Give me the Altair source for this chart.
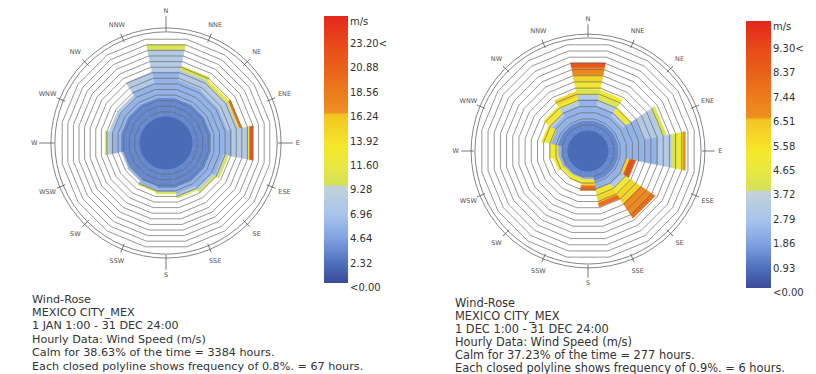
import altair as alt
import pandas as pd

# ---------------- data ----------------
DIRS = ["N", "NNE", "NE", "ENE", "E", "ESE", "SE", "SSE",
        "S", "SSW", "SW", "WSW", "W", "WNW", "NW", "NNW"]
ANGLES = [0.0, 22.5, 45.0, 67.5, 90.0, 112.5, 135.0, 157.5,
          180.0, 202.5, 225.0, 247.5, 270.0, 292.5, 315.0, 337.5]

# frequency (%) of each speed class (class i = i..i+1 legend steps) per direction
LEFT_FREQ = [
    [0, 2.8, 3.8, 3.1, 0.7, 0, 0, 0, 0, 0, 0],      # N
    [0, 2.8, 2.6, 1.4, 0.6, 0, 0, 0, 0, 0, 0],      # NNE
    [0, 2.8, 2.4, 1.3, 0.3, 0.2, 0, 0, 0, 0, 0],    # NE
    [0, 2.8, 2.4, 1.5, 0.2, 0, 0, 0, 0.3, 0, 0],    # ENE
    [0, 2.8, 3.0, 2.3, 0.2, 0, 0, 0, 0, 0.5, 0],    # E
    [0, 2.8, 1.8, 0.4, 0.3, 0, 0, 0, 0, 0, 0],      # ESE
    [0, 2.8, 1.3, 0.4, 0.3, 0, 0, 0, 0, 0, 0],      # SE
    [0, 2.8, 0.9, 0.4, 0.2, 0, 0, 0, 0, 0, 0],      # SSE
    [0, 2.8, 0.6, 0, 0.25, 0, 0, 0, 0, 0, 0],       # S
    [0, 2.6, 0.6, 0, 0.2, 0, 0, 0, 0, 0, 0],        # SSW
    [0, 2.4, 0.4, 0, 0, 0, 0, 0, 0, 0, 0],          # SW
    [0, 2.4, 0.3, 0, 0, 0, 0, 0, 0, 0, 0],          # WSW
    [0, 2.8, 1.4, 0.6, 0.25, 0, 0, 0, 0, 0, 0],     # W
    [0, 2.8, 1.2, 0.5, 0, 0, 0, 0, 0, 0, 0],        # WNW
    [0, 2.8, 1.2, 0.5, 0, 0, 0, 0, 0, 0, 0],        # NW
    [0, 2.8, 2.2, 1.5, 0, 0, 0, 0, 0, 0, 0],        # NNW
]
RIGHT_FREQ = [
    [0, 1.6, 3.1, 0.6, 0.8, 1.1, 1.0, 1.1, 0, 0.7, 0],   # N
    [0, 1.6, 2.2, 0.8, 0.6, 0.8, 0, 0, 0, 0, 0],         # NNE
    [0, 1.6, 1.6, 0.6, 0, 0.8, 0, 0, 0, 0, 0],           # NE
    [0, 1.6, 3.8, 2.6, 0.6, 0, 0, 0, 0, 0, 0],           # ENE
    [0, 1.6, 5.8, 1.9, 0.8, 0.9, 0, 0.3, 0, 0, 0],       # E
    [0, 1.6, 1.2, 0, 0, 0, 0.4, 0, 0, 0.9, 0],           # ESE
    [0, 1.6, 1.4, 0.6, 0, 1.0, 1.6, 1.8, 0.7, 0, 0],     # SE
    [0, 1.6, 1.2, 0, 0, 1.0, 0.9, 0, 0.6, 0, 0],         # SSE
    [0, 0.9, 0.4, 0, 0, 0.5, 0.4, 0, 0.7, 0, 0],         # S
    [0, 0.9, 0.3, 0, 0, 0.7, 0, 0, 0, 0, 0],             # SSW
    [0, 0.9, 0.3, 0, 0, 0.5, 0, 0, 0, 0, 0],             # SW
    [0, 1.0, 0.4, 0, 0, 0.8, 0, 0, 0, 0, 0],             # WSW
    [0, 1.0, 0.5, 0, 0, 1.2, 0, 0, 0, 0, 0],             # W
    [0, 1.6, 1.0, 0, 0, 1.3, 0, 0, 0, 0, 0],             # WNW
    [0, 1.6, 1.6, 0.4, 0, 1.2, 0, 0, 0, 0, 0],           # NW
    [0, 1.6, 2.2, 0.6, 0, 0.6, 0.8, 0, 0, 0, 0],         # NNW
]

LEFT_TICKS = ["<0.00", "2.32", "4.64", "6.96", "9.28", "11.60",
              "13.92", "16.24", "18.56", "20.88", "23.20<"]
RIGHT_TICKS = ["<0.00", "0.93", "1.86", "2.79", "3.72", "4.65",
               "5.58", "6.51", "7.44", "8.37", "9.30<"]

LEFT_TEXT = ["Wind-Rose", "MEXICO CITY_MEX", "1 JAN 1:00 - 31 DEC 24:00",
             "Hourly Data: Wind Speed (m/s)",
             "Calm for 38.63% of the time = 3384 hours.",
             "Each closed polyline shows frequency of 0.8%. = 67 hours."]
RIGHT_TEXT = ["Wind-Rose", "MEXICO CITY_MEX", "1 DEC 1:00 - 31 DEC 24:00",
              "Hourly Data: Wind Speed (m/s)",
              "Calm for 37.23% of the time = 277 hours.",
              "Each closed polyline shows frequency of 0.9%. = 6 hours."]

# colour ramp in legend-step units
STOP_LEVELS = [0.2, 1.0, 2.0, 3.0, 4.0, 4.16, 4.22, 5.0, 5.8, 7.1, 7.2, 8.0, 9.0, 10.0, 11.2]
STOP_COLORS = ["#3a4a98", "#4e6fbc", "#7ea0e0", "#a8c4ec", "#c0d0dc", "#c4d2d6",
               "#d2e05a", "#e8e840", "#f5e82a", "#f4c424", "#ee9020", "#ec7c1c",
               "#e9621a", "#e84a1a", "#e5261c"]
CALM_COLOR = "#4a6cb6"

W, H = 400, 358
LEG_LO, LEG_HI = 0.2, 11.15

LEFT_CFG = dict(cx=158, cy=130, k=7.125, calm=3.65, ring=0.8, nrings=14,
                frames=[15.6, 16.15], major=[15.7, 17.8], minor=[15.3, 16.6],
                lab_major=18.5, lab_minor=18.0,
                bar=(316, 340), lvl0=275, lab_x=342, text=(24, 280.5), lh=13.4,
                fs=11.2)
RIGHT_CFG = dict(cx=180, cy=138, k=7.0, calm=2.86, ring=0.9, nrings=14,
                 frames=[16.15, 16.7], major=[16.3, 18.1], minor=[15.9, 17.2],
                 lab_major=18.9, lab_minor=18.5,
                 bar=(338, 363), lvl0=280, lab_x=365, text=(47, 284.5), lh=13.0,
                 fs=11.4)

color_scale = alt.Scale(domain=STOP_LEVELS, range=STOP_COLORS, interpolate="rgb", clamp=True)


def cells_df(freq):
    rows = []
    for d, a, classes in zip(DIRS, ANGLES, freq):
        cum = 0.0
        for c, f in enumerate(classes):
            if f <= 0:
                continue
            r1, r2 = cum, cum + f
            cum = r2
            corners = [(r1, a - 11.25), (r2, a - 11.25), (r2, a + 11.25), (r1, a + 11.25)]
            for v, (rr, aa) in enumerate(corners):
                rows.append({"cell": f"{d}-{c}", "v": v, "f": rr, "ang": aa, "cls": c})
    return pd.DataFrame(rows)


def rings_df(cfg):
    rows = []
    for i in range(1, cfg["nrings"] + 1):
        for j in range(16):
            rows.append({"ring": i, "v": j, "f": i * cfg["ring"], "ang": 11.25 + 22.5 * j})
    return pd.DataFrame(rows)


def half(freq, ticks, lines, cfg):
    cx, cy, k, calm = cfg["cx"], cfg["cy"], cfg["k"], cfg["calm"]
    D = 20
    xs = alt.Scale(domain=[-D, D], range=[cx - D * k, cx + D * k])
    ys = alt.Scale(domain=[-D, D], range=[cy + D * k, cy - D * k])
    rs = alt.Scale(type="linear", domain=[0, D], range=[0, D * k])
    X = alt.X("x:Q", scale=xs, axis=None)
    Y = alt.Y("y:Q", scale=ys, axis=None)
    polar = dict(x=f"(datum.f + {calm}) * sin(datum.ang * PI / 180)",
                 y=f"(datum.f + {calm}) * cos(datum.ang * PI / 180)")

    cells = alt.Chart(cells_df(freq)).transform_calculate(
        lvl="datum.cls + 0.5", **polar
    ).mark_line(interpolate="linear-closed", strokeWidth=0.5).encode(
        x=X, y=Y, order=alt.Order("v:Q"), detail="cell:N",
        fill=alt.Fill("lvl:Q", scale=color_scale, legend=None),
        stroke=alt.Stroke("lvl:Q", scale=color_scale, legend=None),
    )

    rings = alt.Chart(rings_df(cfg)).transform_calculate(**polar).mark_line(
        interpolate="linear-closed", stroke="#6a6a6a", strokeWidth=0.7
    ).encode(x=X, y=Y, order=alt.Order("v:Q"), detail="ring:N")

    calm_circle = alt.Chart(pd.DataFrame({"r": [calm]})).mark_arc(
        fill=CALM_COLOR, stroke=CALM_COLOR
    ).encode(radius=alt.Radius("r:Q", scale=rs, stack=None),
             x=alt.value(cx), y=alt.value(cy))

    frames = alt.Chart(pd.DataFrame({"r": cfg["frames"]})).mark_arc(
        fill="#ffffff", fillOpacity=0, stroke="#777777", strokeWidth=0.9
    ).encode(radius=alt.Radius("r:Q", scale=rs, stack=None),
             x=alt.value(cx), y=alt.value(cy))

    tick_rows = []
    for d, a in zip(DIRS, ANGLES):
        is_major = d in ("N", "E", "S", "W")
        r1, r2 = cfg["major"] if is_major else cfg["minor"]
        tick_rows.append({"d": d, "ang": a, "r1": r1, "r2": r2,
                          "rl": cfg["lab_major"] if is_major else cfg["lab_minor"]})
    tdf = pd.DataFrame(tick_rows)
    tick_marks = alt.Chart(tdf).transform_calculate(
        x="datum.r1 * sin(datum.ang * PI / 180)",
        y="datum.r1 * cos(datum.ang * PI / 180)",
        x2="datum.r2 * sin(datum.ang * PI / 180)",
        y2="datum.r2 * cos(datum.ang * PI / 180)",
    ).mark_rule(stroke="#555555", strokeWidth=0.8).encode(x=X, y=Y, x2="x2:Q", y2="y2:Q")

    dir_labels = alt.Chart(tdf).transform_calculate(
        x="datum.rl * sin(datum.ang * PI / 180)",
        y="datum.rl * cos(datum.ang * PI / 180)",
    ).mark_text(fontSize=6.5, font="DejaVu Sans", color="#555555",
                align="center", baseline="middle").encode(x=X, y=Y, text="d:N")

    # legend
    ls = alt.Scale(domain=[0, 11], range=[cfg["lvl0"], cfg["lvl0"] - 11 * 24.4])
    stops = []
    last = 0.0
    for lv, col in zip(STOP_LEVELS, STOP_COLORS):
        off = min(1.0, max(0.0, (lv - LEG_LO) / (LEG_HI - LEG_LO)))
        off = max(off, last)
        last = off
        stops.append(alt.GradientStop(color=col, offset=off))
    grad = alt.Gradient(gradient="linear", stops=stops, x1=0, x2=0, y1=1, y2=0)
    bar = alt.Chart(pd.DataFrame({"lo": [LEG_LO], "hi": [LEG_HI]})).mark_rect(fill=grad).encode(
        x=alt.value(cfg["bar"][0]), x2=alt.value(cfg["bar"][1]),
        y=alt.Y("lo:Q", scale=ls, axis=None), y2="hi:Q",
    )
    lab_df = pd.DataFrame({"lvl": list(range(11)) + [10.9], "t": ticks + ["m/s"]})
    leg_labels = alt.Chart(lab_df).mark_text(
        align="left", baseline="middle", fontSize=10, font="DejaVu Sans", color="#333333"
    ).encode(x=alt.value(cfg["lab_x"]), y=alt.Y("lvl:Q", scale=ls, axis=None), text="t:N")

    txt = alt.Chart(pd.DataFrame({"t": ["\n".join(lines)]})).mark_text(
        align="left", baseline="top", lineBreak="\n", fontSize=cfg["fs"],
        lineHeight=cfg["lh"], font="DejaVu Sans", color="#333333"
    ).encode(x=alt.value(cfg["text"][0]), y=alt.value(cfg["text"][1]), text="t:N")

    return alt.layer(
        cells, rings, calm_circle, frames, tick_marks, dir_labels, bar, leg_labels, txt
    ).resolve_scale(x="independent", y="independent").properties(width=W, height=H)


left = half(LEFT_FREQ, LEFT_TICKS, LEFT_TEXT, LEFT_CFG)
right = half(RIGHT_FREQ, RIGHT_TICKS, RIGHT_TEXT, RIGHT_CFG)

chart = alt.hconcat(left, right, spacing=0).resolve_scale(
    x="independent", y="independent", radius="independent"
).properties(padding=0).configure_view(stroke=None)

chart.save("out.html", embed_options={"renderer": "svg", "actions": False})
